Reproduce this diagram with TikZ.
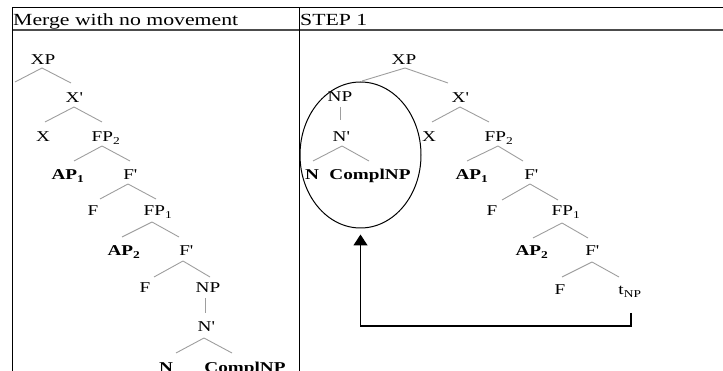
\documentclass[tikz,border=0pt]{standalone}
\usepackage{fontspec}
\setmainfont{Liberation Serif}[FakeStretch=1.28]
\usetikzlibrary{shapes.geometric,arrows.meta,calc}
\newcommand\prm{\textquotesingle}
\begin{document}
\begin{tikzpicture}[x=1pt,y=-1pt,
  lbl/.style={anchor=base,inner sep=0pt,font=\fontsize{15}{17}\selectfont},
  blbl/.style={anchor=base,inner sep=0pt,font=\fontsize{15}{17}\selectfont\bfseries},
  hdr/.style={anchor=base west,inner sep=0pt,font=\fontsize{17}{19}\selectfont},
  branch/.style={draw=black!38,line width=0.9pt},
  rule/.style={draw=black,line width=1pt},
  hrule/.style={draw=black!70,line width=1.6pt},
  loop/.style={draw=black,line width=1pt,ellipse,inner sep=0pt,minimum width=121pt,minimum height=146pt},
  movearrow/.style={draw=black,line width=1.3pt,-{Triangle[width=14pt,length=11pt]}}]
\useasboundingbox (0,0) rectangle (723,371);

% table
\draw[rule] (12,8) -- (723,8);
\draw[hrule] (12,30) -- (723,30);
\draw[rule] (12,8) -- (12,371);
\draw[rule] (299,8) -- (299,371);
\node[hdr] (h1) at (13,26) {Merge with no movement};
\node[hdr] (h2) at (300,26) {STEP 1};

% ---------- left tree ----------
\node[lbl]  (lXP)   at (43,65)   {XP};
\node[lbl]  (lXb)   at (74,103)  {X\prm};
\node[lbl]  (lX)    at (43,142)  {X};
\node[lbl]  (lFP2)  at (106,142) {FP\textsubscript{2}};
\node[blbl] (lAP1)  at (68,180)  {AP\textsubscript{1}};
\node[lbl]  (lF1b)  at (130,180) {F\prm};
\node[lbl]  (lF1)   at (93,216)  {F};
\node[lbl]  (lFP1)  at (158,216) {FP\textsubscript{1}};
\node[blbl] (lAP2)  at (124,256) {AP\textsubscript{2}};
\node[lbl]  (lF2b)  at (186,256) {F\prm};
\node[lbl]  (lF2)   at (145,293) {F};
\node[lbl]  (lNP)   at (208,293) {NP};
\node[lbl]  (lNb)   at (206,332) {N\prm};
\node[blbl] (lN)    at (166,373) {N};
\node[blbl] (lCo)   at (245,373) {ComplNP};

\draw[branch] ($(lXP.base)+(-1,3)$) -- ++(-27,14) ($(lXP.base)+(-1,3)$) -- ++(29,15);
\draw[branch] ($(lXb.base)+(0,4)$) -- ++(-29,15) ($(lXb.base)+(0,4)$) -- ++(28,15);
\draw[branch] ($(lFP2.base)+(-4,4)$) -- ++(-28,15) ($(lFP2.base)+(-4,4)$) -- ++(28,15);
\draw[branch] ($(lF1b.base)+(-2,4)$) -- ++(-28,15) ($(lF1b.base)+(-2,4)$) -- ++(28,15);
\draw[branch] ($(lFP1.base)+(-6,6)$) -- ++(-30,15) ($(lFP1.base)+(-6,6)$) -- ++(27,15);
\draw[branch] ($(lF2b.base)+(-3,5)$) -- ++(-29,16) ($(lF2b.base)+(-3,5)$) -- ++(27,16);
\draw[branch] ($(lNP.base)+(-3,5)$) -- ++(0,15);
\draw[branch] ($(lNb.base)+(-2,6)$) -- ++(-28,15) ($(lNb.base)+(-2,6)$) -- ++(28,15);

% ---------- right tree ----------
\node[lbl]  (rXP)   at (404,65)  {XP};
\node[lbl]  (rNP)   at (340,102) {NP};
\node[lbl]  (rXb)   at (460,103) {X\prm};
\node[lbl]  (rNb)   at (341,142) {N\prm};
\node[lbl]  (rX)    at (429,142) {X};
\node[lbl]  (rFP2)  at (499,142) {FP\textsubscript{2}};
\node[blbl] (rN)    at (312,180) {N};
\node[blbl] (rCo)   at (370,180) {ComplNP};
\node[blbl] (rAP1)  at (472,180) {AP\textsubscript{1}};
\node[lbl]  (rF1b)  at (531,180) {F\prm};
\node[lbl]  (rF1)   at (492,216) {F};
\node[lbl]  (rFP1)  at (566,216) {FP\textsubscript{1}};
\node[blbl] (rAP2)  at (532,256) {AP\textsubscript{2}};
\node[lbl]  (rF2b)  at (592,256) {F\prm};
\node[lbl]  (rF2)   at (560,295) {F};
\node[lbl]  (rt)    at (630,295) {t\textsubscript{NP}};

\draw[branch] ($(rXP.base)+(1,3)$) -- ++(-43,13) ($(rXP.base)+(1,3)$) -- ++(43,15);
\draw[branch] ($(rXb.base)+(0,4)$) -- ++(-28,15) ($(rXb.base)+(0,4)$) -- ++(29,15);
\draw[branch] ($(rNP.base)+(0,5)$) -- ++(0,13);
\draw[branch] ($(rNb.base)+(1,4)$) -- ++(-29,15) ($(rNb.base)+(1,4)$) -- ++(27,15);
\draw[branch] ($(rFP2.base)+(-1,4)$) -- ++(-31,15) ($(rFP2.base)+(-1,4)$) -- ++(25,15);
\draw[branch] ($(rF1b.base)+(-1,4)$) -- ++(-28,16) ($(rF1b.base)+(-1,4)$) -- ++(28,16);
\draw[branch] ($(rFP1.base)+(-4,7)$) -- ++(-29,15) ($(rFP1.base)+(-4,7)$) -- ++(26,15);
\draw[branch] ($(rF2b.base)+(0,6)$) -- ++(-30,15) ($(rF2b.base)+(0,6)$) -- ++(27,15);

% movement
\node[loop] (circ) at (360.5,155) {};
\coordinate (trace) at (631,313);
\draw[movearrow] (trace) -- ++(0,13) -| ([yshift=-6pt]circ.south);
\end{tikzpicture}
\end{document}
